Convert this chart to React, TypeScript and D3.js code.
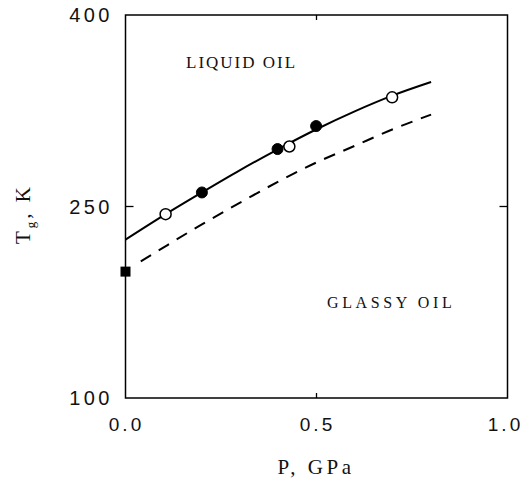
import React from "react";
import * as d3 from "d3";

const W = 527;
const H = 479;

// Axis settings
const xDomain = [0, 1];
const yDomain = [100, 400];
const xTicks = [0, 0.5, 1.0];
const yTicks = [100, 250, 400];

// Data points
const openP = [0.105, 0.429, 0.698];
const openT = [244, 297, 335.5];
const filledP = [0.2, 0.398, 0.499];
const filledT = [261, 295, 313];
const squareP = [0];
const squareT = [199];

// Curves
const solidP = [0, 0.1, 0.2, 0.3, 0.4, 0.5, 0.6, 0.7, 0.8];
const solidT = [224, 243, 261, 278.5, 295, 310.5, 324.5, 337, 347.5];
const dashP = [0.04, 0.1, 0.2, 0.3, 0.4, 0.5, 0.6, 0.7, 0.8];
const dashT = [207, 218, 236, 253, 269.5, 284.5, 297.5, 310.5, 322];

const margin = { left: 125.5, right: 507.5, top: 15, bottom: 398 };

export default function App() {
  const x = d3.scaleLinear().domain(xDomain).range([margin.left, margin.right]);
  const y = d3.scaleLinear().domain(yDomain).range([margin.bottom, margin.top]);

  const line = d3
    .line<[number, number]>()
    .x((d) => x(d[0]))
    .y((d) => y(d[1]))
    .curve(d3.curveMonotoneX);

  const solid = line(solidP.map((p, i) => [p, solidT[i]]));
  const dashed = line(dashP.map((p, i) => [p, dashT[i]]));

  const tickFont = "'Liberation Sans', Arial, sans-serif";
  const serif = "'Liberation Serif', 'Times New Roman', serif";

  return (
    <svg
      width={W}
      height={H}
      style={{ position: "absolute", left: 0, top: 0, background: "#fff" }}
    >
      {/* frame */}
      <rect
        x={margin.left}
        y={margin.top}
        width={margin.right - margin.left}
        height={margin.bottom - margin.top}
        fill="none"
        stroke="#000"
        strokeWidth={1.5}
      />
      {/* inner ticks */}
      <line x1={x(0.5)} x2={x(0.5)} y1={y(100)} y2={y(100) - 5} stroke="#000" strokeWidth={1.3} />
      <line x1={x(0.5)} x2={x(0.5)} y1={y(400)} y2={y(400) + 5} stroke="#000" strokeWidth={1.3} />
      <line x1={x(0)} x2={x(0) + 8} y1={y(250)} y2={y(250)} stroke="#000" strokeWidth={1.3} />
      <line x1={x(1)} x2={x(1) - 8} y1={y(250)} y2={y(250)} stroke="#000" strokeWidth={1.3} />

      {/* tick labels */}
      {xTicks.map((t) => (
        <text
          key={"x" + t}
          x={t === 1 ? x(t) - 2 : x(t) + 1}
          y={431}
          textAnchor="middle"
          fontFamily={tickFont}
          fontSize={19}
          letterSpacing={3}
          fill="#111"
        >
          {t.toFixed(1)}
        </text>
      ))}
      {yTicks.map((t) => (
        <text
          key={"y" + t}
          x={113}
          y={y(t) + 7}
          textAnchor="end"
          fontFamily={tickFont}
          fontSize={20}
          letterSpacing={3.5}
          fill="#111"
        >
          {t}
        </text>
      ))}

      {/* axis titles */}
      <text
        x={316}
        y={474}
        textAnchor="middle"
        fontFamily={serif}
        fontSize={21}
        letterSpacing={3.5}
        fill="#111"
      >
        P, GPa
      </text>
      <text
        transform={`translate(30,214) rotate(-90)`}
        textAnchor="middle"
        fontFamily={serif}
        fontSize={21}
        letterSpacing={3}
        fill="#111"
      >
        T
        <tspan fontSize={13} dy={5}>g</tspan>
        <tspan dy={-5}>, K</tspan>
      </text>

      {/* region labels */}
      <text x={186} y={68} fontFamily={serif} fontSize={17} letterSpacing={2} fill="#111">
        LIQUID OIL
      </text>
      <text x={327} y={308} fontFamily={serif} fontSize={16} letterSpacing={3.6} fill="#111">
        GLASSY OIL
      </text>

      {/* curves */}
      <path d={solid || ""} fill="none" stroke="#000" strokeWidth={2} />
      <path d={dashed || ""} fill="none" stroke="#000" strokeWidth={2} strokeDasharray="12,9" />

      {/* markers */}
      {openP.map((p, i) => (
        <circle key={"o" + i} cx={x(p)} cy={y(openT[i])} r={5.5} fill="#fff" stroke="#000" strokeWidth={1.5} />
      ))}
      {filledP.map((p, i) => (
        <circle key={"f" + i} cx={x(p)} cy={y(filledT[i])} r={5.5} fill="#000" stroke="#000" strokeWidth={1} />
      ))}
      {squareP.map((p, i) => (
        <rect key={"s" + i} x={x(p) - 5} y={y(squareT[i]) - 5} width={10} height={10} fill="#000" />
      ))}
    </svg>
  );
}
